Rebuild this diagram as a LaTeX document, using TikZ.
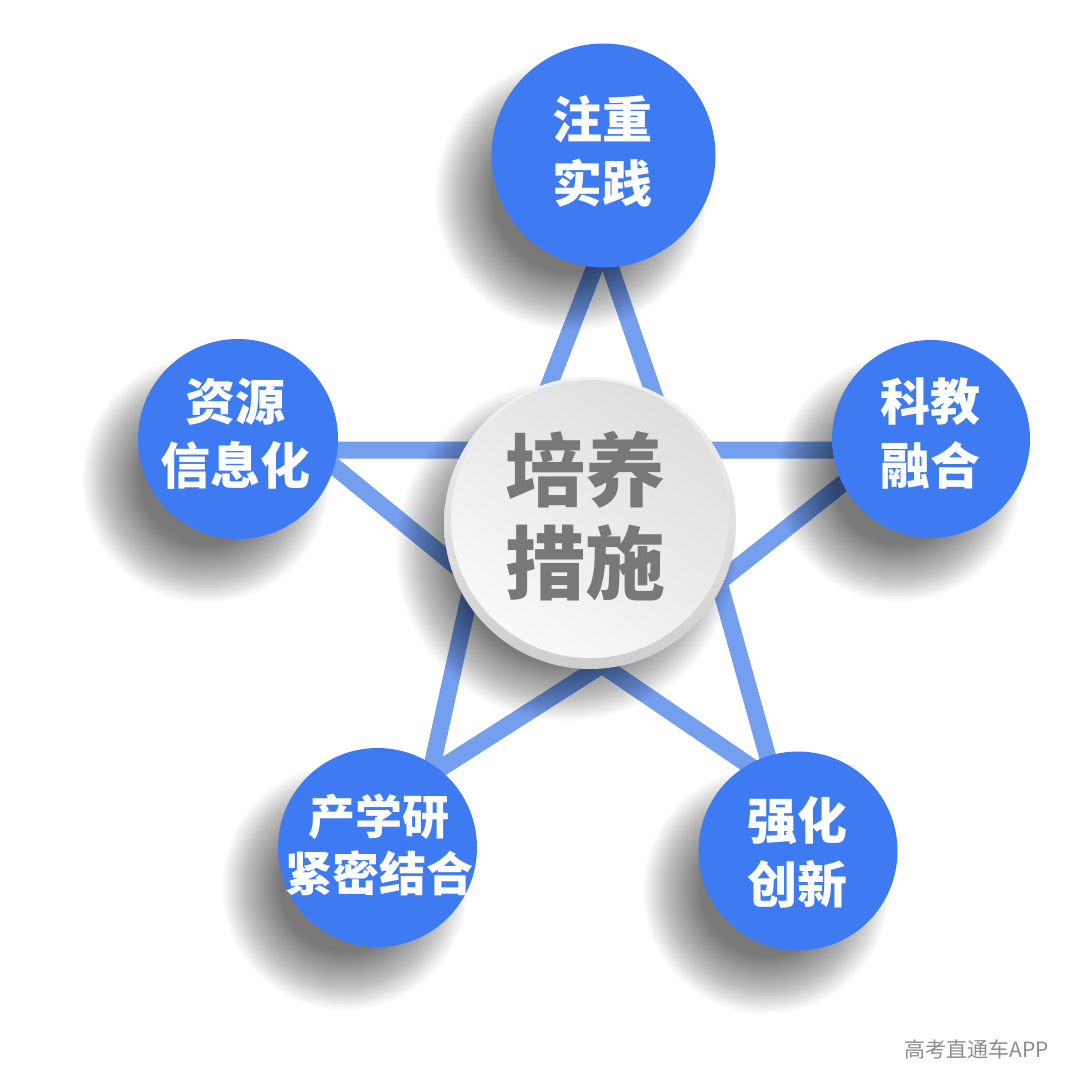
\documentclass[tikz,border=0pt]{standalone}
\usepackage{fontspec}
\newfontfamily\cjk{Noto Sans CJK SC}
\definecolor{nodeblue}{RGB}{62,123,242}
\definecolor{starblue}{RGB}{116,158,238}
\definecolor{centertext}{RGB}{120,120,120}
\definecolor{marktext}{RGB}{140,140,140}
\definecolor{rimlight}{RGB}{242,242,242}
\definecolor{rimdark}{RGB}{206,206,206}
\definecolor{facedark}{RGB}{222,222,222}
\definecolor{facelight}{RGB}{249,249,249}
\tikzset{
  bluecircle/.style={circle, fill=nodeblue, inner sep=0pt, minimum size=#1},
  bluetext/.style={text=white, align=center, inner sep=0pt,
    font=\cjk\bfseries\fontsize{50}{64}\selectfont},
  starline/.style={draw=starblue, line width=17pt, line join=miter},
}
\newcommand{\softshadow}[3]{%
  \foreach \k in {0,...,39}{\fill[black,opacity=0.017] (#1,#2) circle[radius={#3+28-1.5*\k}];}}
\begin{document}
\begin{tikzpicture}[x=1pt,y=-1pt]
\fill[white] (0,0) rectangle (1080,1090);
\useasboundingbox (0,0) rectangle (1080,1090);

% star outline
\coordinate (s1) at (603,246);
\coordinate (s2) at (673,450);
\coordinate (s3) at (885,450);
\coordinate (s4) at (719,582);
\coordinate (s5) at (775,783);
\coordinate (s6) at (602,665);
\coordinate (s7) at (430,775);
\coordinate (s8) at (473,580);
\coordinate (s9) at (314,450);
\coordinate (s10) at (524,450);
\draw[starline] (s1)--(s2)--(s3)--(s4)--(s5)--(s6)--(s7)--(s8)--(s9)--(s10)--cycle;

% shadows
\softshadow{571}{195}{108}
\softshadow{206}{479}{96}
\softshadow{899}{479}{95}
\softshadow{345}{887}{95}
\softshadow{766}{891}{95}
\softshadow{566}{551}{142}

% centre button
\node[circle, minimum size=292pt, inner sep=0pt, top color=rimlight, bottom color=rimdark] (centre) at (590,523) {};
\shade[top color=facedark, bottom color=facelight, shading angle=-35] (590,519) circle[radius=139];

% blue circles
\node[bluecircle=224pt] (top) at (603.5,155.5) {};
\node[bluecircle=200pt] (left) at (238,439) {};
\node[bluecircle=198pt] (right) at (931,439) {};
\node[bluecircle=199pt] (bl) at (377.5,847.5) {};
\node[bluecircle=199pt] (br) at (798,851) {};

% texts
\node[bluetext] (ttop) at (602,151) {注重\\实践};
\node[bluetext] (tleft) at (235,434) {资源\\信息化};
\node[bluetext] (tright) at (930,433) {科教\\融合};
\node[bluetext] (tbr) at (797,852) {强化\\创新};
\node[bluetext, font=\cjk\bfseries\fontsize{47}{57}\selectfont] (tbl) at (379,844.5) {产学研\\紧密结合};
\node[text=centertext, align=center, inner sep=0pt, font=\cjk\bfseries\fontsize{80}{92.5}\selectfont] (tcentre) at (585,516) {培养\\措施};

% watermark
\node[text=marktext, inner sep=0pt, font=\cjk\fontsize{21}{24}\selectfont] (mark) at (977,1049) {高考直通车APP};
\end{tikzpicture}
\end{document}
